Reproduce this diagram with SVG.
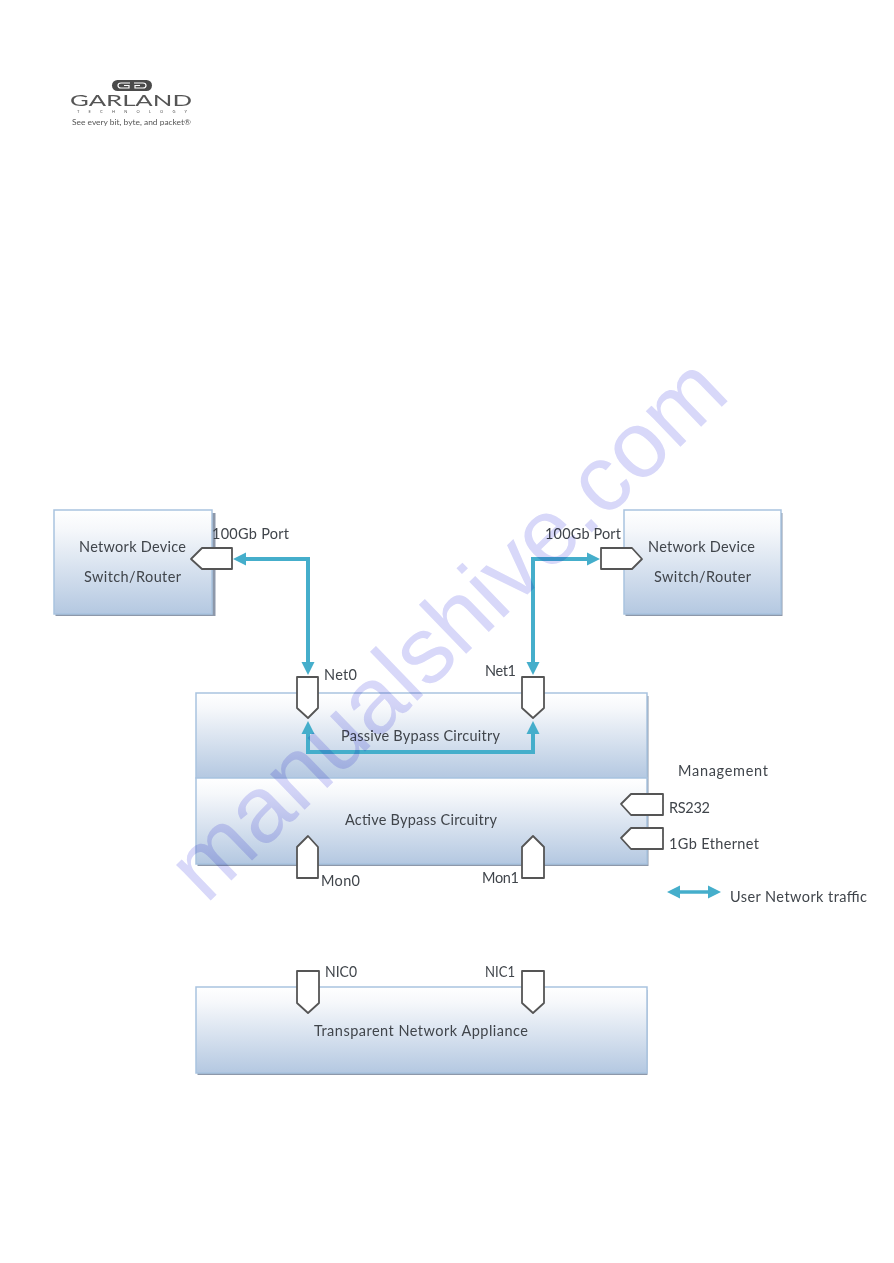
<svg xmlns="http://www.w3.org/2000/svg" width="894" height="1263" viewBox="0 0 894 1263">
<style>
text{font-family:Lato,"Open Sans","Liberation Sans",sans-serif;font-size:14.5px;fill:#40454b}
.box{fill:url(#g);stroke:#a9c3df;stroke-width:1.5}
.shadow{fill:#8d98aa}
.port{fill:#fff;stroke:#555;stroke-width:1.800;stroke-linejoin:round}
.link{fill:none;stroke:#45aecb;stroke-width:4;stroke-linejoin:miter;marker-start:url(#a);marker-end:url(#a)}
.wm{font-family:"Liberation Sans",Arial,sans-serif;font-size:94px;fill:#d8d8f9;mix-blend-mode:multiply}
.logo{fill:#555}
</style>
<defs>
<linearGradient id="g" x1="0" y1="0" x2="0" y2="1"><stop offset="0" stop-color="#fff"/><stop offset=".18" stop-color="#f6f8fb"/><stop offset="1" stop-color="#b4c8e1"/></linearGradient>
<marker id="a" markerUnits="userSpaceOnUse" markerWidth="16" markerHeight="16" viewBox="0 0 16 16" refX="2" refY="8" orient="auto-start-reverse"><path d="M1 1.500L14 8L1 14.500Z" fill="#45aecb"/></marker>
</defs>
<rect width="894" height="1263" fill="#fff"/>

<g id="logo">
<rect x="112" y="80" width="40" height="11" rx="5.500" fill="#4a4a4a"/>
<path d="M130 83H121Q118 83 118 85.500Q118 88 121 88H129V85.500H124M134 83H143Q146 83 146 85.500Q146 88 143 88H135V85.500H140" fill="none" stroke="#fff" stroke-width="1.200"/>
<text class="logo" x="70" y="105.500" textLength="122" lengthAdjust="spacingAndGlyphs" style="font-size:15.500px">GARLAND</text>
<text class="logo" x="77" y="113" textLength="110" style="font-size:4px">TECHNOLOGY</text>
<text class="logo" x="72" y="125" textLength="119" lengthAdjust="spacingAndGlyphs" style="font-size:7.800px">See every bit, byte, and packet®</text>
</g>

<g id="device-left">
<rect class="shadow" x="55.500" y="513" width="160" height="103"/>
<rect class="box" x="54" y="510" width="158" height="104"/>
<text x="79" y="552" textLength="107">Network Device</text>
<text x="84" y="582" textLength="97">Switch/Router</text>
</g>
<g id="device-right">
<rect class="shadow" x="625.500" y="513" width="157" height="103"/>
<rect class="box" x="624" y="510" width="157" height="104"/>
<text x="648" y="552" textLength="107">Network Device</text>
<text x="654" y="582" textLength="97">Switch/Router</text>
</g>

<g id="bypass">
<rect class="shadow" x="197.500" y="696" width="451" height="170"/>
<rect class="box" x="196" y="693" width="451" height="85"/>
<rect class="box" x="196" y="778" width="451" height="86"/>
<text x="341" y="741" textLength="159">Passive Bypass Circuitry</text>
<text x="345" y="825" textLength="152">Active Bypass Circuitry</text>
</g>

<g id="appliance">
<rect class="shadow" x="197.500" y="990" width="450" height="85"/>
<rect class="box" x="196" y="987" width="451" height="86"/>
<text x="314" y="1036" textLength="214">Transparent Network Appliance</text>
</g>

<g id="connectors">
<path class="link" d="M245 559H308V663"/>
<path class="link" d="M588 559H533V663"/>
<path class="link" d="M308 733V752H533V733"/>
<path class="link" style="stroke-width:3.500" d="M679 892H709"/>
</g>

<g id="port-left"><path class="port" d="M232 548H202L191 559L202 569H232Z"/><text x="212" y="539" textLength="77">100Gb Port</text></g>
<g id="port-right"><path class="port" d="M601 548H632L642 559L632 569H601Z"/><text x="545" y="539" textLength="76">100Gb Port</text></g>
<g id="net0"><path class="port" d="M297 677H318V708L308 718L297 708Z"/><text x="324" y="680" textLength="33">Net0</text></g>
<g id="net1"><path class="port" d="M522 677H544V708L533 718L522 708Z"/><text x="485" y="676" textLength="31">Net1</text></g>
<g id="mon0"><path class="port" d="M297 878H318V847L308 836L297 847Z"/><text x="321" y="886" textLength="39">Mon0</text></g>
<g id="mon1"><path class="port" d="M522 878H544V847L533 836L522 847Z"/><text x="482" y="883" textLength="37">Mon1</text></g>
<g id="rs232"><path class="port" d="M663 794H631L621 804L631 815H663Z"/><text x="669" y="813" textLength="41">RS232</text></g>
<g id="ethernet"><path class="port" d="M663 828H631L621 838L631 849H663Z"/><text x="669" y="849" textLength="90">1Gb Ethernet</text></g>
<g id="nic0"><path class="port" d="M297 971H319V1003L308 1013L297 1003Z"/><text x="325" y="977" textLength="32" lengthAdjust="spacingAndGlyphs">NIC0</text></g>
<g id="nic1"><path class="port" d="M522 971H544V1003L533 1013L522 1003Z"/><text x="485" y="977" textLength="30" lengthAdjust="spacingAndGlyphs">NIC1</text></g>
<g id="labels">
<text x="678" y="776" textLength="90">Management</text>
<text x="730" y="902" textLength="137">User Network traffic</text>
</g>
<text class="wm" transform="translate(206 905) rotate(-44)">manualshive.com</text>
</svg>
